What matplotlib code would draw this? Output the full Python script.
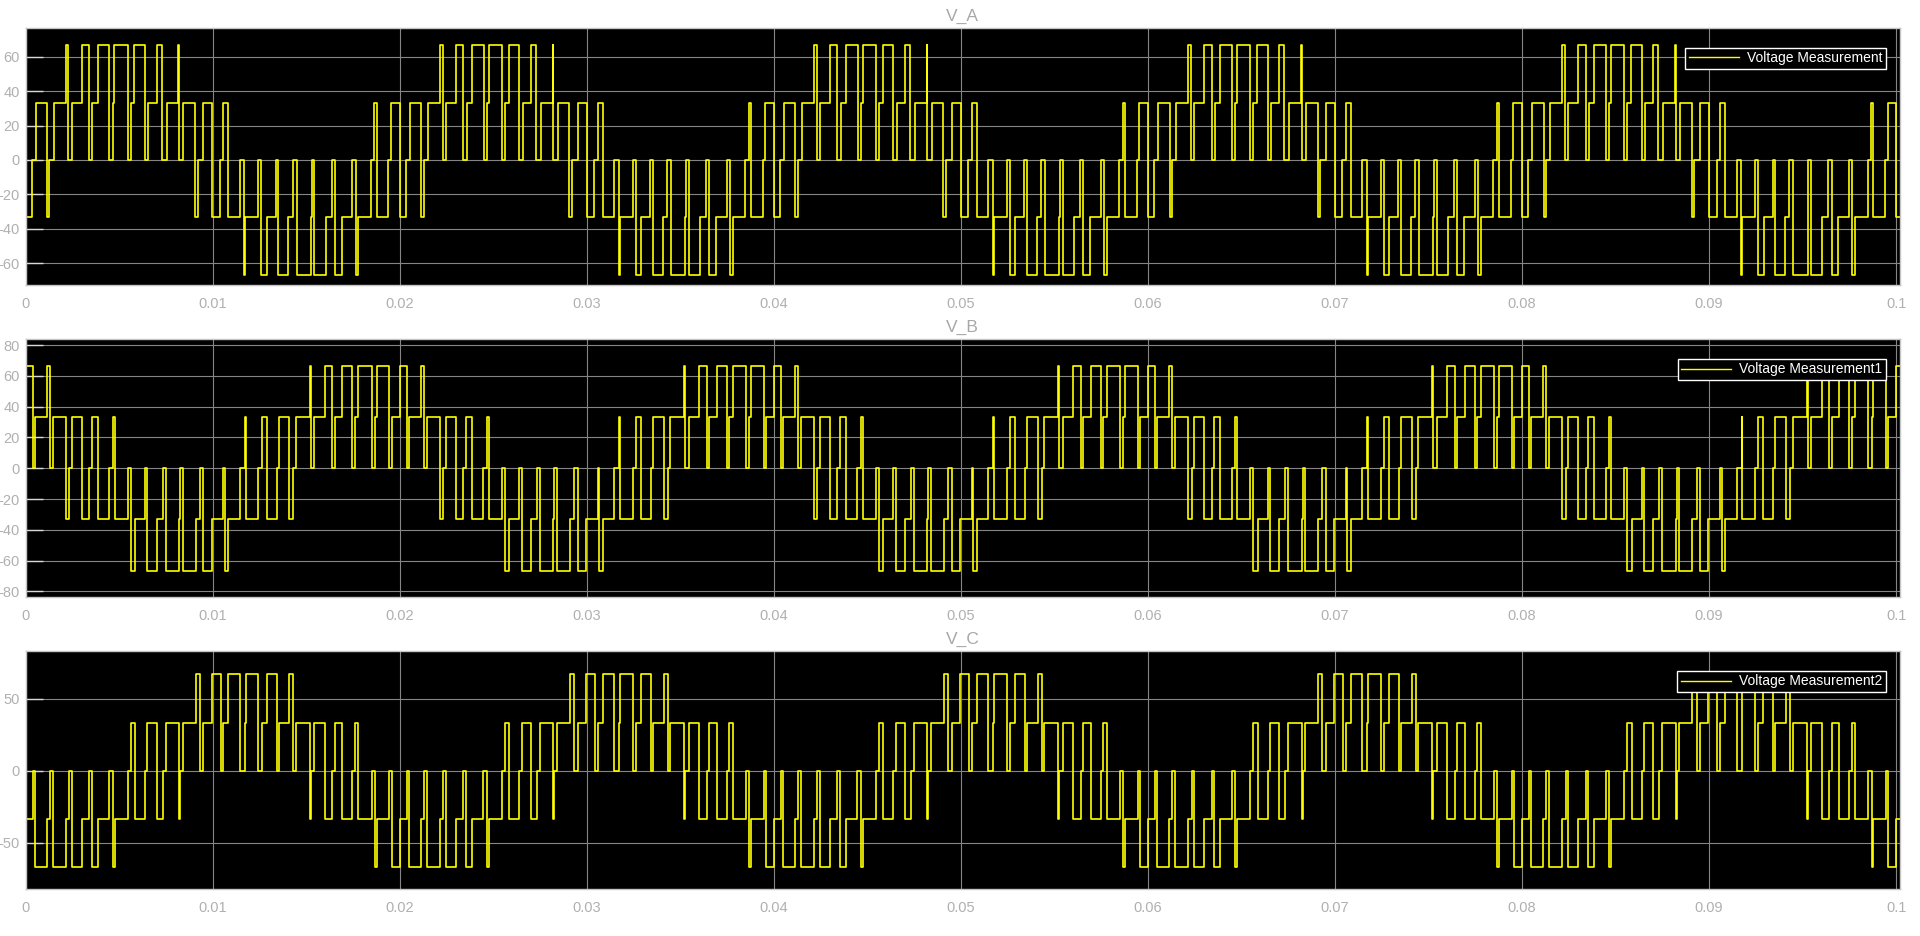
import numpy as np
import matplotlib
matplotlib.use("Agg")
import matplotlib.pyplot as plt

# one 50 Hz period (20 ms) of each phase:
# switching instants in ms and the level held after each instant (V)
va_t_ms = [0, 0.342, 0.556, 1.160, 1.283, 1.497, 2.159, 2.298, 2.480, 3.014,
           3.405, 3.581, 3.870, 4.490, 4.671, 4.757, 5.473, 5.633, 5.826, 6.398,
           6.574, 7.023, 7.290, 7.557, 8.177, 8.215, 8.445, 9.070, 9.214, 9.514,
           9.995, 10.406, 10.582, 10.850, 11.475, 11.705, 11.758, 12.453, 12.613, 12.918,
           13.399, 13.522, 14.057, 14.292, 14.506, 15.270, 15.308, 15.446, 16.055, 16.376,
           16.552, 16.910, 17.477, 17.659, 17.798, 18.477, 18.653, 18.781, 19.401, 19.546]
va_lvl = [-33.3, 0, 33.3, -33.3, 0, 33.3, 66.7, 0, 33.3, 66.7,
          0, 33.3, 66.7, 0, 33.3, 66.7, 0, 33.3, 66.7, 0,
          33.3, 66.7, 0, 33.3, 66.7, 0, 33.3, -33.3, 0, 33.3,
          -33.3, 0, 33.3, -33.3, 0, -66.7, -33.3, 0, -66.7, -33.3,
          0, -66.7, -33.3, 0, -66.7, -33.3, 0, -66.7, -33.3, 0,
          -66.7, -33.3, 0, -66.7, -33.3, 0, 33.3, -33.3, 0, 33.3]

vb_t_ms = [0, 0.376, 0.483, 1.142, 1.285, 1.463, 2.158, 2.336, 2.478, 3.013,
           3.405, 3.547, 3.850, 4.474, 4.652, 4.758, 5.453, 5.632, 5.863, 6.398,
           6.522, 7.021, 7.324, 7.503, 8.215, 8.268, 8.411, 9.106, 9.337, 9.515,
           9.961, 10.584, 10.673, 10.851, 11.475, 11.742, 11.778, 12.455, 12.633, 12.900,
           13.435, 13.542, 14.112, 14.325, 14.468, 15.216, 15.270, 15.448, 16.018, 16.410,
           16.553, 16.944, 17.479, 17.622, 17.800, 18.513, 18.691, 18.780, 19.456, 19.581]
vb_lvl = [66.7, 0, 33.3, 66.7, 0, 33.3, -33.3, 0, 33.3, -33.3,
          0, 33.3, -33.3, 0, 33.3, -33.3, 0, -66.7, -33.3, 0,
          -66.7, -33.3, 0, -66.7, -33.3, 0, -66.7, -33.3, 0, -66.7,
          -33.3, 0, -66.7, -33.3, 0, 33.3, -33.3, 0, 33.3, -33.3,
          0, 33.3, -33.3, 0, 33.3, 66.7, 0, 33.3, 66.7, 0,
          33.3, 66.7, 0, 33.3, 66.7, 0, 33.3, 66.7, 0, 33.3]

vc_t_ms = [0, 0.376, 0.483, 1.142, 1.285, 1.463, 2.158, 2.336, 2.478, 3.013,
           3.405, 3.547, 3.850, 4.474, 4.652, 4.758, 5.453, 5.632, 5.863, 6.398,
           6.522, 7.021, 7.324, 7.503, 8.215, 8.268, 8.411, 9.106, 9.337, 9.515,
           9.961, 10.441, 10.584, 10.851, 11.475, 11.742, 11.778, 12.455, 12.633, 12.900,
           13.435, 13.542, 14.112, 14.325, 14.468, 15.216, 15.270, 15.448, 16.018, 16.410,
           16.553, 16.944, 17.479, 17.622, 17.800, 18.513, 18.691, 18.780, 19.456, 19.581]
vc_lvl = [-33.3, 0, -66.7, -33.3, 0, -66.7, -33.3, 0, -66.7, -33.3,
          0, -66.7, -33.3, 0, -66.7, -33.3, 0, 33.3, -33.3, 0,
          33.3, -33.3, 0, 33.3, -33.3, 0, 33.3, 66.7, 0, 33.3,
          66.7, 0, 33.3, 66.7, 0, 33.3, 66.7, 0, 33.3, 66.7,
          0, 33.3, 66.7, 0, 33.3, -33.3, 0, 33.3, -33.3, 0,
          33.3, -33.3, 0, 33.3, -33.3, 0, -66.7, -33.3, 0, -66.7]

period = 0.02
n_cycles = 5          # scope window 0 .. 0.1 s shows 5 identical periods

titles = ["V_A", "V_B", "V_C"]
legend_names = ["Voltage Measurement", "Voltage Measurement1", "Voltage Measurement2"]
y_limits = [(-72.5, 77), (-83.5, 84), (-82, 83)]
y_ticks = [np.arange(-60, 61, 20), np.arange(-80, 81, 20), [-50, 0, 50]]
x_ticks = np.arange(0, 0.1001, 0.01)
x_labels = ["0", "0.01", "0.02", "0.03", "0.04", "0.05", "0.06", "0.07", "0.08", "0.09", "0.1"]


def tile_cycle(t_ms, lvl):
    t_one = np.array(t_ms) / 1000.0
    t = np.concatenate([t_one + k * period for k in range(n_cycles + 1)])
    v = np.tile(lvl, n_cycles + 1)
    return t, v
##END tile_cycle


plt.rcParams['font.family'] = ['Liberation Sans', 'DejaVu Sans']
plt.rcParams['axes.unicode_minus'] = False

fig = plt.figure(figsize=(19.2, 9.36), dpi=100, facecolor='white')

W, H = 1920.0, 936.0
left_px, right_px = 25.5, 1900.0
boxes_px = [(27.7, 284.5), (339.0, 596.7), (651.0, 888.7)]   # top, bottom

series = [(va_t_ms, va_lvl), (vb_t_ms, vb_lvl), (vc_t_ms, vc_lvl)]
grey_txt = '#b0b0b0'

for i, (top, bot) in enumerate(boxes_px):
    ax = fig.add_axes([left_px / W, 1 - bot / H, (right_px - left_px) / W, (bot - top) / H])
    ax.set_facecolor('black')

    t, v = tile_cycle(*series[i])
    ax.plot(t, v, drawstyle='steps-post', color='#ffff00', lw=1.2,
            label=legend_names[i])

    ax.set_xlim(0, 0.10021)
    ax.set_ylim(*y_limits[i])
    ax.set_xticks(x_ticks)
    ax.set_xticklabels(x_labels)
    ax.set_yticks(y_ticks[i])

    ax.grid(True, color='#858585', lw=0.8)
    ax.set_axisbelow(True)
    for sp in ax.spines.values():
        sp.set_color('#c4c4c4')
        sp.set_linewidth(1.0)

    ax.tick_params(axis='y', direction='in', length=12, width=1.0, color='#d8d8d8',
                   labelcolor=grey_txt, labelsize=10.5, pad=4)
    ax.tick_params(axis='x', direction='in', length=0, labelcolor=grey_txt,
                   labelsize=10.5, pad=9)

    ax.set_title(titles[i], color='#a8a8a8', fontsize=12.5, pad=5)

    ax_w = right_px - left_px
    ax_h = bot - top
    leg = ax.legend(loc='upper right', bbox_to_anchor=(1 - 14 / ax_w, 1 - 20 / ax_h),
                    borderaxespad=0, fontsize=10, frameon=True, fancybox=False,
                    facecolor='black', edgecolor='white', framealpha=1,
                    handlelength=3.6, handletextpad=0.6, borderpad=0.25)
    leg.get_frame().set_linewidth(1.0)
    for txt in leg.get_texts():
        txt.set_color('white')
    for ln in leg.get_lines():
        ln.set_linewidth(1.0)

fig.savefig('out.png', dpi=100, facecolor='white')
